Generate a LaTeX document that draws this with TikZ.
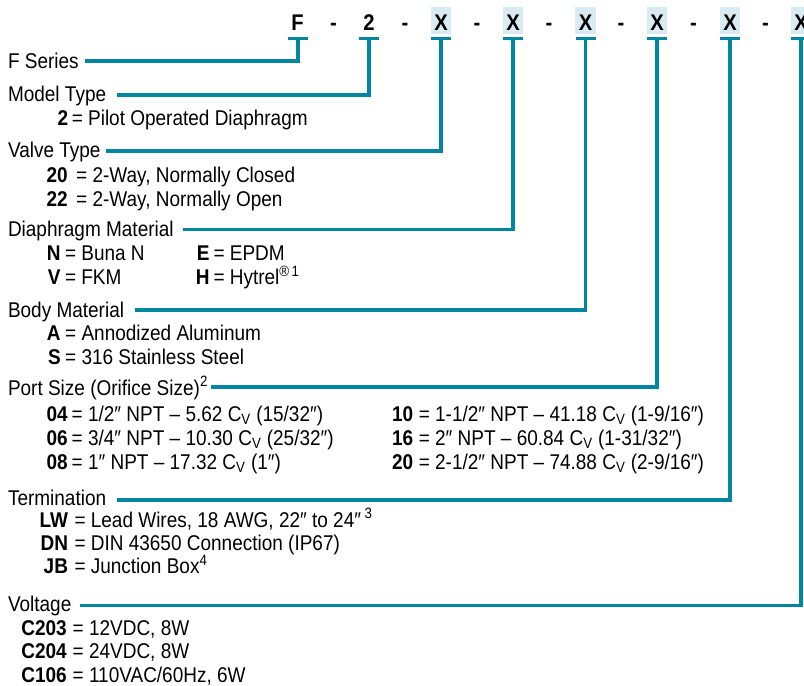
\documentclass[tikz,border=0pt]{standalone}
\usepackage{fontspec}
\setmainfont{Liberation Sans}[FakeStretch=0.89]
\definecolor{lineteal}{RGB}{0,134,160}
\definecolor{boxblue}{RGB}{216,235,242}
\newcommand\optrow[6][3]{%
  \node[codeb] (#2c) at (#3,#4) {#5};
  \node[desc] (#2t) at ({#3+#1+1.5},#4) {= #6};
}
\begin{document}
\begin{tikzpicture}[x=0.75pt,y=-0.75pt,
  conn/.style={draw=lineteal,line width=2.7pt},
  lbl/.style={anchor=base west,inner sep=0pt,outer sep=0pt,font=\fontsize{16}{19}\selectfont},
  codeb/.style={anchor=base east,inner sep=0pt,outer sep=0pt,font=\fontsize{16}{19}\selectfont\bfseries},
  desc/.style={anchor=base west,inner sep=0pt,outer sep=0pt,font=\fontsize{16}{19}\selectfont},
  topcode/.style={anchor=base,inner sep=0pt,outer sep=0pt,font=\fontsize{17}{20}\selectfont\bfseries},
  hlbox/.style={fill=boxblue,draw=none,inner sep=0pt,minimum width=15.3pt,minimum height=20.25pt}
]
\clip (0,0) rectangle (804,686);
\useasboundingbox (0,0) rectangle (804,686);
\fill[white] (0,0) rectangle (804,686);

% ---- header code boxes ----
\foreach \n/\x in {b3/441,b4/513,b5/585.5,b6/657,b7/730,b8/801}{
  \node[hlbox] (\n) at (\x,20.75) {};
}
% ---- header codes ----
\node[topcode] (tF) at (297.5,30) {F};
\node[topcode] (d1) at (333.5,30) {-};
\node[topcode] (t2) at (369,30) {2};
\node[topcode] (d2) at (405,30) {-};
\node[topcode] (t3) at (441,30) {X};
\node[topcode] (d3) at (477,30) {-};
\node[topcode] (t4) at (513,30) {X};
\node[topcode] (d4) at (549,30) {-};
\node[topcode] (t5) at (585.5,30) {X};
\node[topcode] (d5) at (621,30) {-};
\node[topcode] (t6) at (657,30) {X};
\node[topcode] (d6) at (693.5,30) {-};
\node[topcode] (t7) at (730,30) {X};
\node[topcode] (d7) at (765.5,30) {-};
\node[topcode] (t8) at (801,30) {X};

% ---- T-bar coordinates and line starts ----
\coordinate (k1) at (298,38.4);
\coordinate (k2) at (369,38.4);
\coordinate (k3) at (441,38.4);
\coordinate (k4) at (513,38.4);
\coordinate (k5) at (585.5,38.4);
\coordinate (k6) at (657,38.4);
\coordinate (k7) at (730,38.4);
\coordinate (k8) at (801,38.4);
\coordinate (s1) at (85,61);
\coordinate (s2) at (116.5,95);
\coordinate (s3) at (106,151);
\coordinate (s4) at (182.5,229.5);
\coordinate (s5) at (135,310);
\coordinate (s6) at (211,387);
\coordinate (s7) at (117,500);
\coordinate (s8) at (80,605.5);
\foreach \i in {1,...,8}{
  \draw[conn] ([xshift=-7.5pt]k\i) -- ([xshift=7.5pt]k\i);
  \draw[conn] (k\i) |- (s\i);
}

% ---- labels ----
\node[lbl] (l1) at (8,68.3) {F Series};
\node[lbl] (l2) at (8,101.5) {Model Type};
\node[lbl] (l3) at (8,157.5) {Valve Type};
\node[lbl] (l4) at (8,236.5) {Diaphragm Material};
\node[lbl] (l5) at (8,317.5) {Body Material};
\node[lbl] (l6) at (8,395) {Port Size (Orifice Size)\textsuperscript{2}};
\node[lbl] (l7) at (8,505.5) {Termination};
\node[lbl] (l8) at (8,611.5) {Voltage};

% ---- options ----
\optrow[2]{m1}{68.3}{125.5}{2}{Pilot Operated Diaphragm}
\optrow[7]{v1}{67.7}{182.5}{20}{2-Way, Normally Closed}
\optrow[7]{v2}{67.7}{206}{22}{2-Way, Normally Open}
\optrow[3]{dn}{60.5}{260.5}{N}{Buna N}
\optrow[3]{dv}{60.5}{284.5}{V}{FKM}
\optrow[2.5]{de}{209.5}{260.5}{E}{EPDM}
\optrow[2.5]{dh}{209.5}{284.5}{H}{Hytrel\textsuperscript{\textregistered\,1}}
\optrow[3]{ba}{60.7}{340.5}{A}{Annodized Aluminum}
\optrow[3]{bs}{60.7}{364.5}{S}{316 Stainless Steel}
\optrow[2.5]{p1}{67.7}{421.5}{04}{1/2″ NPT – 5.62 C\textsubscript{V} (15/32″)}
\optrow[2.5]{p2}{67.7}{445.5}{06}{3/4″ NPT – 10.30 C\textsubscript{V} (25/32″)}
\optrow[2.5]{p3}{67.7}{469.5}{08}{1″ NPT – 17.32 C\textsubscript{V} (1″)}
\optrow[4]{p4}{413.3}{421.5}{10}{1-1/2″ NPT – 41.18 C\textsubscript{V} (1-9/16″)}
\optrow[4]{p5}{413.3}{445.5}{16}{2″ NPT – 60.84 C\textsubscript{V} (1-31/32″)}
\optrow[4]{p6}{413.3}{469.5}{20}{2-1/2″ NPT – 74.88 C\textsubscript{V} (2-9/16″)}
\optrow[5]{e1}{68}{527}{LW}{Lead Wires, 18 AWG, 22″ to 24″\,\textsuperscript{3}}
\optrow[5]{e2}{68}{550.5}{DN}{DIN 43650 Connection (IP67)}
\optrow[5]{e3}{68}{573.5}{JB}{Junction Box\textsuperscript{4}}
\optrow[4.5]{c1}{66.7}{635}{C203}{12VDC, 8W}
\optrow[4.5]{c2}{66.7}{658.5}{C204}{24VDC, 8W}
\optrow[4.5]{c3}{66.7}{682}{C106}{110VAC/60Hz, 6W}
\end{tikzpicture}
\end{document}
